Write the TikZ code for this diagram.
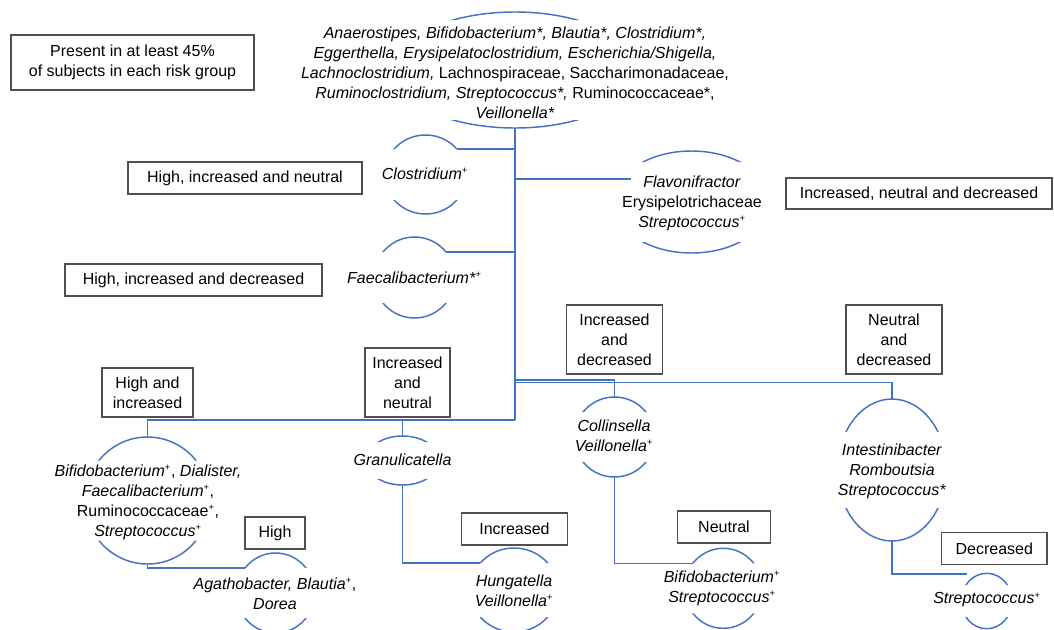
\documentclass[tikz,border=0pt]{standalone}
\usepackage{fontspec}
\setmainfont{Liberation Sans}
\usetikzlibrary{calc}

\definecolor{treeblue}{RGB}{68,114,196}
\definecolor{boxgray}{RGB}{80,80,80}

% small raised plus
\newcommand\pl{\textsuperscript{\fontsize{7}{7}\selectfont +}}

% top and bottom arcs of an ellipse round a group of taxa
% #1 name, #2 cx, #3 cy, #4 x radius, #5 y radius, #6 cut
\newcommand\lobe[6]{%
  \pgfmathsetmacro\lobedx{#4*sqrt(1-(#6/#5)^2)}
  \coordinate (#1) at (#2,#3);
  \coordinate (#1-n) at (#2,{#3-#5});
  \coordinate (#1-s) at (#2,{#3+#5});
  \coordinate (#1-nw) at ({#2-\lobedx},{#3-#6});
  \coordinate (#1-ne) at ({#2+\lobedx},{#3-#6});
  \begin{scope}
    \clip ({#2-#4-3},{#3-#5-3}) rectangle ({#2+#4+3},{#3-#6})
          ({#2-#4-3},{#3+#6}) rectangle ({#2+#4+3},{#3+#5+3});
    \draw[arcline] (#1) ellipse [x radius=#4, y radius=#5];
  \end{scope}}

\begin{document}
\begin{tikzpicture}[
  x=0.75pt, y=-0.75pt,
  font=\fontsize{12}{15}\selectfont,
  arcline/.style={draw=treeblue, line width=1.1pt},
  link/.style={draw=treeblue, line width=1.1pt},
  taxa/.style={align=center, inner sep=0pt},
  riskbox/.style={draw=boxgray, line width=1pt, align=center, inner sep=0pt}
]
  \useasboundingbox (0,0) rectangle (1054,629);

  % groups of taxa
  \lobe{core}{515}{70}{122}{58}{50}
  \lobe{clos}{425.5}{174.5}{41}{39.5}{25.5}
  \lobe{faec}{414.5}{277.5}{40.5}{40.5}{25.5}
  \lobe{flav}{691.5}{202}{78}{51}{40}
  \lobe{bifi}{147.5}{500.5}{62.5}{63.5}{40}
  \lobe{agat}{275.5}{593}{39}{40}{25}
  \lobe{gran}{402.5}{460.5}{36.6}{24.5}{18.5}
  \lobe{hung}{514}{590}{44}{42}{27}
  \lobe{coll}{614.5}{437}{40.2}{40}{25}
  \lobe{inte}{892}{470}{54.5}{71}{38}
  \lobe{bif2}{723.3}{588.3}{39}{40}{25}
  \lobe{strp}{986.7}{601}{25.4}{27.7}{16}

  \node[taxa] (coreT) at (515,72.5) {\textit{Anaerostipes, Bifidobacterium*, Blautia*, Clostridium*,}\\
    \textit{Eggerthella, Erysipelatoclostridium, Escherichia/Shigella,}\\
    \textit{Lachnoclostridium,} Lachnospiraceae, Saccharimonadaceae,\\
    \textit{Ruminoclostridium, Streptococcus*,} Ruminococcaceae*,\\
    \textit{Veillonella*}};
  \node[taxa] (closT) at (425,174) {\textit{Clostridium}\pl};
  \node[taxa] (faecT) at (414.5,277.5) {\textit{Faecalibacterium*}\pl};
  \node[taxa] (flavT) at (692,203) {\textit{Flavonifractor}\\Erysipelotrichaceae\\\textit{Streptococcus}\pl};
  \node[taxa] (bifiT) at (148,502) {\textit{Bifidobacterium}\pl, \textit{Dialister,}\\
    \textit{Faecalibacterium}\pl,\\Ruminococcaceae\pl,\\\textit{Streptococcus}\pl};
  \node[taxa] (agatT) at (275,593.5) {\textit{Agathobacter, Blautia}\pl,\\\textit{Dorea}};
  \node[taxa] (granT) at (402.5,460) {\textit{Granulicatella}};
  \node[taxa] (hungT) at (514,591) {\textit{Hungatella}\\\textit{Veillonella}\pl};
  \node[taxa] (collT) at (614,435.5) {\textit{Collinsella}\\\textit{Veillonella}\pl};
  \node[taxa] (inteT) at (892,471.5) {\textit{Intestinibacter}\\\textit{Romboutsia}\\\textit{Streptococcus*}};
  \node[taxa] (bif2T) at (722,588) {\textit{Bifidobacterium}\pl\\\textit{Streptococcus}\pl};
  \node[taxa] (strpT) at (987,600) {\textit{Streptococcus}\pl};

  % risk groups
  \node[riskbox, minimum width=182.25pt, minimum height=41.25pt] (all) at (132.5,62.5) {Present in at least 45\%\\of subjects in each risk group};
  \node[riskbox, minimum width=175.5pt, minimum height=24pt] (hin) at (245,178) {High, increased and neutral};
  \node[riskbox, minimum width=192.75pt, minimum height=24pt] (hid) at (193.5,280) {High, increased and decreased};
  \node[riskbox, minimum width=199.5pt, minimum height=23.25pt] (ind) at (919,193.5) {Increased, neutral and decreased};
  \node[riskbox, minimum width=72pt, minimum height=51.75pt] (incdec) at (614.5,339.5) {Increased\\and\\decreased};
  \node[riskbox, minimum width=72pt, minimum height=51.75pt] (neudec) at (894,339.5) {Neutral\\and\\decreased};
  \node[riskbox, minimum width=68.25pt, minimum height=36.75pt] (highinc) at (147.5,392.5) {High and\\increased};
  \node[riskbox, minimum width=63.75pt, minimum height=51.75pt] (incneu) at (407.5,382.5) {Increased\\and\\neutral};
  \node[riskbox, minimum width=45pt, minimum height=24pt] (high) at (275,533) {High};
  \node[riskbox, minimum width=79.5pt, minimum height=24pt] (inc) at (514.5,529) {Increased};
  \node[riskbox, minimum width=69.5pt, minimum height=24pt] (neu) at (724,527) {Neutral};
  \node[riskbox, minimum width=79.1pt, minimum height=24.4pt] (dec) at (994.3,548.5) {Decreased};

  % tree
  \coordinate (trunk) at (515,420);
  \coordinate (splitA) at (515,380);
  \coordinate (splitB) at (515,382.5);
  \coordinate (flavin) at (631,179);
  \coordinate (strpin) at (966.7,574);

  \draw[link] (core-s) -- (trunk);
  \draw[link] (clos-ne) -- (clos-ne -| core);
  \draw[link] (faec-ne) -- (faec-ne -| core);
  \draw[link] (core |- flavin) -- (flavin);
  \draw[link] (trunk) -| (bifi-n);
  \draw[link] (gran-n |- trunk) -- (gran-n);
  \draw[link] (splitA) -| (coll-n);
  \draw[link] (splitB) -| (inte-n);
  \draw[link] (bifi-s) |- (agat-nw);
  \draw[link] (gran-s) |- (hung-nw);
  \draw[link] (coll-s) |- (bif2-nw);
  \draw[link] (inte-s) |- (strpin);
\end{tikzpicture}
\end{document}
